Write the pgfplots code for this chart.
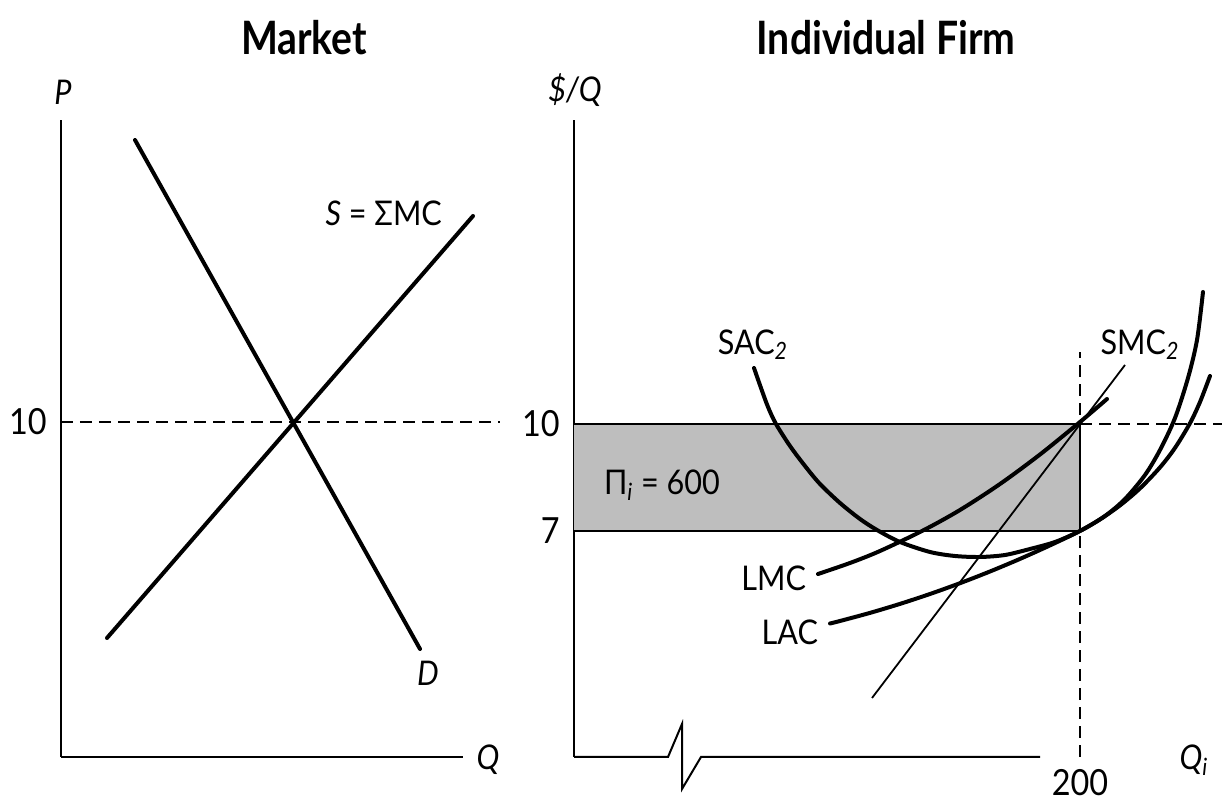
\documentclass[border=0pt]{standalone}
\usepackage{pgfplots}
\pgfplotsset{compat=1.18}
\usepackage{fontspec}
\setmainfont{Lato}[FakeStretch=0.9]
\newfontfamily\titlefont{Lato}[FakeStretch=0.85]
\definecolor{shade}{RGB}{190,190,190}
\begin{document}
\begin{tikzpicture}[font=\fontsize{17}{20}\selectfont]
\useasboundingbox (0,0) rectangle (611pt,403.5pt);
\pgfplotsset{
  every axis/.append style={
    scale only axis, anchor=south west, enlargelimits=false, clip=false,
    ymin=50, ymax=687,
    axis lines=left, axis line style={-, line width=1pt},
    major tick length=0pt,
    /pgf/number format/assume math mode=true,
    ticklabel style={font=\fontsize{18}{20}\selectfont, inner sep=0pt},
  },
  curve/.style={line width=2pt, line cap=round, smooth, tension=0.5},
  dashline/.style={line width=1pt, dash pattern=on 6pt off 3.5pt},
}
% ---------------- Market ----------------
\begin{axis}[
  width=201pt, height=318.5pt, at={(30.5pt,25pt)},
  xmin=61, xmax=463,
  xtick=\empty, ytick={385}, yticklabels={10},
  yticklabel style={xshift=-7pt},
]
\addplot[dashline] coordinates {(61,385) (500,385)};
\addplot[curve] coordinates {(135,667) (420,158)};
\addplot[curve] coordinates {(107,169) (473,591)};
\node at (axis cs:63,715) {\itshape P};
\node at (axis cs:488,47) {\itshape Q};
\node at (axis cs:428,134) {\itshape D};
\node[anchor=east] at (axis cs:449,594) {\textit{S} = ΣMC};
\node at (axis cs:304,769) {\titlefont\bfseries\fontsize{23}{26}\selectfont Market};
\end{axis}
% ---------------- Individual firm ----------------
\begin{axis}[
  width=324pt, height=318.5pt, at={(287pt,25pt)},
  xmin=574, xmax=1222,
  x axis line style={draw=none},
  xtick={1080}, xticklabels={200},
  xticklabel style={yshift=-6pt},
  ytick={276,383}, yticklabels={7,10},
  yticklabel style={xshift=-7pt},
]
\addplot[fill=shade, draw=none] coordinates {(574,276) (1080,276) (1080,383) (574,383) (574,276)};
\addplot[line width=0.8pt] coordinates {(574,383) (1080,383)};
\addplot[line width=0.8pt] coordinates {(574,276) (1080,276) (1080,383)};
\addplot[dashline] coordinates {(1080,383) (1222,383)};
\addplot[dashline] coordinates {(1080,50) (1080,455)};
\addplot[line width=1pt] coordinates {(574,50) (668,50) (682,83) (682,18) (701,50) (1040,50)};
% SAC2
\addplot[curve] coordinates {
 (754,439) (761,419) (768,400) (776,383) (790,361) (805,341) (820,323)
 (840,304) (860,288) (877,277) (900,265) (930,255) (955,251) (980,250)
 (1005,252) (1030,258) (1055,265) (1080,276) (1105,291) (1125,308)
 (1145,332) (1160,357) (1175,389) (1188,429) (1197,467) (1203,515)};
% LMC
\addplot[curve] coordinates {
 (818,233) (850,244) (880,256) (923,276.5) (960,297) (1000,323) (1040,352.5) (1080,385) (1107,408)};
% LAC
\addplot[curve] coordinates {
 (830,183.5) (840,186) (870,194.1) (900,203.1) (930,213) (960,223.8) (990,235.5)
 (1020,248.1) (1050,261.6) (1080,276) (1100,287.6) (1120,301.6) (1140,318.6)
 (1160,339.6) (1175,359.1) (1190,383.8) (1200,405) (1210,431)};
% SMC2
\addplot[line width=0.9pt] coordinates {(872,109) (1125,442)};
\node at (axis cs:575,717) {\itshape \$/Q};
\node at (axis cs:1194,47) {\itshape Q\textsubscript{i}};
\node at (axis cs:753,462) {SAC\textsubscript{\itshape 2}};
\node at (axis cs:1140,462) {SMC\textsubscript{\itshape 2}};
\node at (axis cs:662,322) {Π\textsubscript{\itshape i} = 600};
\node[anchor=east] at (axis cs:813,229) {LMC};
\node[anchor=east] at (axis cs:825,175) {LAC};
\node at (axis cs:886,769) {\titlefont\bfseries\fontsize{23}{26}\selectfont Individual Firm};
\end{axis}
\end{tikzpicture}
\end{document}
